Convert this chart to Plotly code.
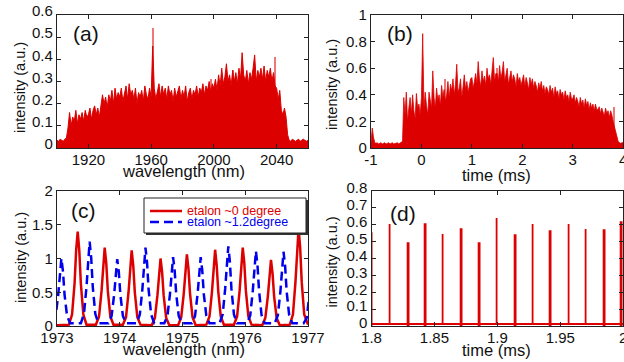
import plotly.graph_objects as go

W, H = 624, 362
RED = "#dd0000"
LIGHT = "rgba(238,120,120,1)"
BLUE = "#0000ee"

# ---------------- (a) spectrum ----------------
wl_a_nm = list(range(1900, 2061))
int_a = ([0.035, 0.03, 0.04, 0.035, 0.03, 0.04, 0.045]
         + [0.09, 0.16, 0.10, 0.14, 0.12, 0.17, 0.11, 0.15, 0.13, 0.16, 0.12, 0.17, 0.14]
         + [0.15, 0.18, 0.13, 0.17, 0.19, 0.15, 0.18, 0.14, 0.20, 0.24]
         + [0.20, 0.23, 0.18, 0.24, 0.21, 0.26, 0.20, 0.27, 0.22, 0.25]
         + [0.23, 0.27, 0.21, 0.25, 0.28, 0.22, 0.29, 0.24, 0.26, 0.22]
         + [0.27, 0.20, 0.25, 0.23, 0.26, 0.21, 0.28, 0.24, 0.22, 0.27]
         + [0.23, 0.46, 0.27, 0.22, 0.26, 0.29, 0.23, 0.28, 0.24, 0.27]
         + [0.22, 0.28, 0.24, 0.26, 0.21, 0.27, 0.23, 0.25, 0.28, 0.22]
         + [0.26, 0.23, 0.28, 0.21, 0.25, 0.27, 0.22, 0.26, 0.24, 0.28]
         + [0.23, 0.27, 0.25, 0.29, 0.24, 0.28, 0.26, 0.30, 0.25, 0.29]
         + [0.27, 0.31, 0.26, 0.33, 0.28, 0.36, 0.29, 0.32, 0.38, 0.30]
         + [0.33, 0.28, 0.35, 0.30, 0.34, 0.29, 0.36, 0.31, 0.43, 0.33]
         + [0.30, 0.35, 0.29, 0.34, 0.31, 0.36, 0.42, 0.30, 0.35, 0.32]
         + [0.36, 0.31, 0.37, 0.30, 0.35, 0.32, 0.36, 0.30, 0.34, 0.28]
         + [0.27, 0.22, 0.26, 0.17, 0.15, 0.18, 0.14]
         + [0.06, 0.035, 0.03, 0.04, 0.035, 0.03, 0.035, 0.04, 0.03, 0.035, 0.04, 0.035, 0.03, 0.035])
light_a_nm = [1961, 2039, 1998, 2012]
light_a = [0.54, 0.41, 0.31, 0.35]

# ---------------- (b) time trace (0.025 ms steps from -1 ms) ----------------
time_b_ms = [round(-1 + 0.025 * i, 3) for i in range(201)]
int_b = ([0.04, 0.15, 0.08, 0.04, 0.035, 0.04, 0.03, 0.035, 0.04, 0.03,
          0.035, 0.04, 0.03, 0.035, 0.04, 0.03, 0.035, 0.04, 0.03, 0.035]
         + [0.035, 0.04, 0.03, 0.035, 0.04, 0.05, 0.38, 0.25, 0.42, 0.20,
            0.30, 0.38, 0.26, 0.40, 0.28, 0.22, 0.41, 0.30, 0.33, 0.25]
         + [0.38, 0.86, 0.30, 0.42, 0.32, 0.25, 0.42, 0.35, 0.30, 0.58,
            0.38, 0.30, 0.45, 0.36, 0.40, 0.32, 0.47, 0.38, 0.44, 0.35]
         + [0.40, 0.50, 0.38, 0.48, 0.43, 0.52, 0.40, 0.48, 0.63, 0.42,
            0.45, 0.52, 0.38, 0.46, 0.55, 0.44, 0.50, 0.42, 0.48, 0.52]
         + [0.53, 0.45, 0.50, 0.56, 0.48, 0.65, 0.52, 0.46, 0.58, 0.50,
            0.54, 0.47, 0.60, 0.52, 0.55, 0.48, 0.58, 0.68, 0.50, 0.56]
         + [0.56, 0.50, 0.62, 0.52, 0.57, 0.65, 0.50, 0.55, 0.60, 0.48,
            0.54, 0.58, 0.50, 0.55, 0.52, 0.46, 0.56, 0.50, 0.53, 0.47]
         + [0.51, 0.55, 0.46, 0.53, 0.49, 0.44, 0.53, 0.48, 0.52, 0.45,
            0.50, 0.47, 0.42, 0.49, 0.45, 0.50, 0.43, 0.47, 0.41, 0.46]
         + [0.44, 0.40, 0.47, 0.42, 0.45, 0.38, 0.46, 0.41, 0.43, 0.37,
            0.44, 0.40, 0.42, 0.36, 0.43, 0.38, 0.40, 0.35, 0.42, 0.37]
         + [0.37, 0.40, 0.34, 0.38, 0.35, 0.31, 0.38, 0.33, 0.36, 0.30,
            0.37, 0.32, 0.35, 0.29, 0.34, 0.30, 0.33, 0.28, 0.33, 0.29]
         + [0.29, 0.31, 0.26, 0.30, 0.27, 0.24, 0.30, 0.26, 0.28, 0.23,
            0.28, 0.25, 0.20, 0.16, 0.12, 0.07, 0.05, 0.04, 0.035, 0.04]
         + [0.04])
light_b_ms = [1.49, 3.82, 0.47]
light_b = [0.60, 0.31, 0.52]

# ---------------- (c) etalon transmission ----------------
red_c_nm = [1973.00,
            1973.19, 1973.24, 1973.28, 1973.305, 1973.33, 1973.355, 1973.38, 1973.42, 1973.47,
            1973.62, 1973.67, 1973.71, 1973.735, 1973.76, 1973.785, 1973.81, 1973.85, 1973.90,
            1974.05, 1974.10, 1974.14, 1974.165, 1974.19, 1974.215, 1974.24, 1974.28, 1974.33,
            1974.51, 1974.56, 1974.60, 1974.625, 1974.65, 1974.675, 1974.70, 1974.74, 1974.79,
            1974.93, 1974.98, 1975.02, 1975.045, 1975.07, 1975.095, 1975.12, 1975.16, 1975.21,
            1975.38, 1975.43, 1975.47, 1975.495, 1975.52, 1975.545, 1975.57, 1975.61, 1975.66,
            1975.82, 1975.87, 1975.91, 1975.935, 1975.96, 1975.985, 1976.01, 1976.05, 1976.10,
            1976.27, 1976.32, 1976.36, 1976.385, 1976.41, 1976.435, 1976.46, 1976.50, 1976.55,
            1976.71, 1976.76, 1976.80, 1976.825, 1976.85, 1976.875, 1976.90, 1976.94, 1976.99,
            1977.00]
red_c = [0.01,
         0.02, 0.17, 0.63, 1.12, 1.40, 1.12, 0.63, 0.17, 0.02,
         0.02, 0.14, 0.52, 0.93, 1.16, 0.93, 0.52, 0.14, 0.02,
         0.02, 0.13, 0.50, 0.90, 1.12, 0.90, 0.50, 0.13, 0.02,
         0.01, 0.12, 0.45, 0.80, 1.00, 0.80, 0.45, 0.12, 0.01,
         0.01, 0.13, 0.48, 0.85, 1.06, 0.85, 0.48, 0.13, 0.01,
         0.02, 0.14, 0.51, 0.90, 1.13, 0.90, 0.51, 0.14, 0.02,
         0.02, 0.14, 0.52, 0.93, 1.16, 0.93, 0.52, 0.14, 0.02,
         0.01, 0.12, 0.44, 0.78, 0.98, 0.78, 0.44, 0.12, 0.01,
         0.02, 0.17, 0.65, 1.16, 1.45, 1.16, 0.65, 0.17, 0.02,
         0.02]
blue_c_nm = [1972.93, 1972.98, 1973.02, 1973.045, 1973.07, 1973.095, 1973.12, 1973.16, 1973.21,
             1973.38, 1973.43, 1973.47, 1973.495, 1973.52, 1973.545, 1973.57, 1973.61, 1973.66,
             1973.82, 1973.87, 1973.91, 1973.935, 1973.96, 1973.985, 1974.01, 1974.05, 1974.10,
             1974.27, 1974.32, 1974.36, 1974.385, 1974.41, 1974.435, 1974.46, 1974.50, 1974.55,
             1974.71, 1974.76, 1974.80, 1974.825, 1974.85, 1974.875, 1974.90, 1974.94, 1974.99,
             1975.15, 1975.20, 1975.24, 1975.265, 1975.29, 1975.315, 1975.34, 1975.38, 1975.43,
             1975.59, 1975.64, 1975.68, 1975.705, 1975.73, 1975.755, 1975.78, 1975.82, 1975.87,
             1976.03, 1976.08, 1976.12, 1976.145, 1976.17, 1976.195, 1976.22, 1976.26, 1976.31,
             1976.47, 1976.52, 1976.56, 1976.585, 1976.61, 1976.635, 1976.66, 1976.70, 1976.75,
             1976.93, 1976.98, 1977.02]
blue_c = [0.04, 0.15, 0.47, 0.81, 1.00, 0.81, 0.47, 0.15, 0.04,
          0.04, 0.18, 0.58, 1.01, 1.25, 1.01, 0.58, 0.18, 0.04,
          0.04, 0.15, 0.46, 0.80, 0.99, 0.80, 0.46, 0.15, 0.04,
          0.04, 0.17, 0.54, 0.94, 1.16, 0.94, 0.54, 0.17, 0.04,
          0.04, 0.15, 0.47, 0.82, 1.02, 0.82, 0.47, 0.15, 0.04,
          0.04, 0.15, 0.47, 0.82, 1.02, 0.82, 0.47, 0.15, 0.04,
          0.04, 0.17, 0.55, 0.95, 1.18, 0.95, 0.55, 0.17, 0.04,
          0.04, 0.16, 0.52, 0.90, 1.11, 0.90, 0.52, 0.16, 0.04,
          0.04, 0.16, 0.51, 0.89, 1.10, 0.89, 0.51, 0.16, 0.04,
          0.04, 0.12, 0.45]
legend_c = ["etalon ~0 degree", "etalon ~1.2degree"]

# ---------------- (d) pulse train ----------------
spike_d_ms = [1.8005, 1.8150, 1.8296, 1.8433, 1.8573, 1.8719, 1.8864, 1.9001,
              1.9150, 1.9287, 1.9427, 1.9572, 1.9709, 1.9855, 1.9992]
spike_d = [0.543, 0.597, 0.488, 0.597, 0.537, 0.571, 0.488, 0.632,
           0.531, 0.597, 0.555, 0.597, 0.571, 0.561, 0.610]
base_d_ms = [1.8, 2.0]
base_d = [0.012, 0.012]

# ---------------- ticks ----------------
xt_a = [1920, 1960, 2000, 2040]
yt_a = [0, 0.1, 0.2, 0.3, 0.4, 0.5, 0.6]
yl_a = ["0", "0.1", "0.2", "0.3", "0.4", "0.5", "0.6"]
xt_b = [-1, 0, 1, 2, 3, 4]
xl_b = ["-1", "0", "1", "2", "3", "4"]
yt_b = [0, 0.2, 0.4, 0.6, 0.8, 1]
yl_b = ["0", "0.2", "0.4", "0.6", "0.8", "1"]
xt_c = [1973, 1974, 1975, 1976, 1977]
yt_c = [0, 0.5, 1, 1.5, 2]
yl_c = ["0", "0.5", "1", "1.5", "2"]
xt_d = [1.8, 1.85, 1.9, 1.95, 2.0]
xl_d = ["1.8", "1.85", "1.9", "1.95", "2"]
yt_d = [0, 0.1, 0.2, 0.3, 0.4, 0.5, 0.6, 0.7, 0.8]
yl_d = ["0", "0.1", "0.2", "0.3", "0.4", "0.5", "0.6", "0.7", "0.8"]

fig = go.Figure()
# (a)
fig.add_trace(go.Bar(x=light_a_nm, y=light_a, width=0.8, marker=dict(color=LIGHT, line_width=0),
                     showlegend=False, xaxis="x", yaxis="y"))
fig.add_trace(go.Scatter(x=wl_a_nm, y=int_a, mode="lines", line=dict(color=RED, width=1),
                         fill="tozeroy", fillcolor=RED, showlegend=False, xaxis="x", yaxis="y"))
# (b)
fig.add_trace(go.Bar(x=light_b_ms, y=light_b, width=0.02, marker=dict(color=LIGHT, line_width=0),
                     showlegend=False, xaxis="x2", yaxis="y2"))
fig.add_trace(go.Scatter(x=time_b_ms, y=int_b, mode="lines", line=dict(color=RED, width=0.8),
                         fill="tozeroy", fillcolor=RED, showlegend=False, xaxis="x2", yaxis="y2"))
# (c)
fig.add_trace(go.Scatter(x=red_c_nm, y=red_c, mode="lines", line=dict(color=RED, width=2.5),
                         name=legend_c[0], showlegend=False, xaxis="x3", yaxis="y3"))
fig.add_trace(go.Scatter(x=blue_c_nm, y=blue_c, mode="lines",
                         line=dict(color=BLUE, width=2.5, dash="9px,5px"),
                         name=legend_c[1], showlegend=False, xaxis="x3", yaxis="y3"))
# (d)
fig.add_trace(go.Scatter(x=base_d_ms, y=base_d, mode="lines", line=dict(color=RED, width=2),
                         showlegend=False, xaxis="x4", yaxis="y4"))
fig.add_trace(go.Bar(x=spike_d_ms, y=spike_d, width=0.0005,
                     marker=dict(color=RED, line=dict(color=RED, width=1.8)),
                     showlegend=False, xaxis="x4", yaxis="y4"))


def xd(l, r):
    return [l / W, r / W]


def yd(t, b):
    return [1 - b / H, 1 - t / H]


tickfont = dict(family="Arial", size=15, color="#111")


def ax(domain, rng, tv, tt, **kw):
    d = dict(domain=domain, range=rng, tickvals=tv, ticktext=tt, showline=True, mirror="ticks",
             linecolor="#222", linewidth=1.2, ticks="inside", ticklen=4, tickwidth=1,
             tickcolor="#222", showgrid=False, zeroline=False, tickfont=tickfont,
             automargin=False, ticklabeloverflow="allow")
    d.update(kw)
    return d


fig.update_layout(
    template="none",
    width=W, height=H, margin=dict(l=0, r=0, t=0, b=0, autoexpand=False),
    paper_bgcolor="white", plot_bgcolor="white",
    xaxis=ax(xd(57, 308), [1900, 2060], xt_a, [str(v) for v in xt_a], anchor="y",
             ticklabelstandoff=-2),
    yaxis=ax(yd(15, 148), [0, 0.6], yt_a, yl_a, anchor="x", ticklabelshift=-4),
    xaxis2=ax(xd(371, 623.2), [-1, 4], xt_b, xl_b, anchor="y2", ticklabelstandoff=-2),
    yaxis2=ax(yd(15, 148), [0, 1], yt_b, yl_b, anchor="x2"),
    xaxis3=ax(xd(57, 308), [1973, 1977], xt_c, [str(v) for v in xt_c], anchor="y3",
              ticklabelstandoff=-2),
    yaxis3=ax(yd(191, 326), [0, 2], yt_c, yl_c, anchor="x3"),
    xaxis4=ax(xd(371.5, 623.2), [1.8, 2.0], xt_d, xl_d, anchor="y4", ticklabelstandoff=-2),
    yaxis4=ax(yd(191, 326), [0, 0.8], yt_d, yl_d, anchor="x4", ticklabelshift=-3),
    bargap=0,
    showlegend=False,
)


def ann(text, px, py, size, angle=0, color="#111", xanchor="center"):
    fig.add_annotation(text=text, x=px / W, y=1 - py / H, xref="paper", yref="paper",
                       xanchor=xanchor, yanchor="middle", showarrow=False, textangle=angle,
                       font=dict(family="Arial", size=size, color=color))


for t, px, py in [("(a)", 86, 34), ("(b)", 400, 34), ("(c)", 83, 210), ("(d)", 403, 213)]:
    ann(t, px, py, 21)
for px, py in [(20, 88), (332, 85), (21, 258), (331.5, 262)]:
    ann("intensity (a.u.)", px, py, 14.5, -90)
for t, px, py in [("wavelength (nm)", 183, 171), ("time (ms)", 497, 175),
                  ("wavelength (nm)", 183, 349), ("time (ms)", 497, 350)]:
    ann(t, px, py, 16.5)


# legend box of panel (c), drawn in MATLAB style (box with shadow edge)
def rect(x0, y0, x1, y1, **kw):
    fig.add_shape(type="rect", xref="paper", yref="paper", x0=x0 / W, x1=x1 / W,
                  y0=1 - y1 / H, y1=1 - y0 / H, layer="above", **kw)


def seg(x0, x1, y, **kw):
    fig.add_shape(type="line", xref="paper", yref="paper", x0=x0 / W, x1=x1 / W,
                  y0=1 - y / H, y1=1 - y / H, layer="above", **kw)


rect(146, 200, 308, 235, fillcolor="#333", line=dict(width=0))
rect(144, 198, 306, 233, fillcolor="white", line=dict(color="#222", width=1))
seg(150, 182, 211, line=dict(color=RED, width=2.5))
seg(150, 182, 222, line=dict(color=BLUE, width=2.5, dash="9px,5px"))
ann(legend_c[0], 185, 211, 12.5, color=RED, xanchor="left")
ann(legend_c[1], 185, 222, 12.5, color=BLUE, xanchor="left")

fig.write_html("out.html", config={"displayModeBar": False},
               post_script="document.body.style.margin='0';"
               "document.documentElement.style.overflow='hidden';")
